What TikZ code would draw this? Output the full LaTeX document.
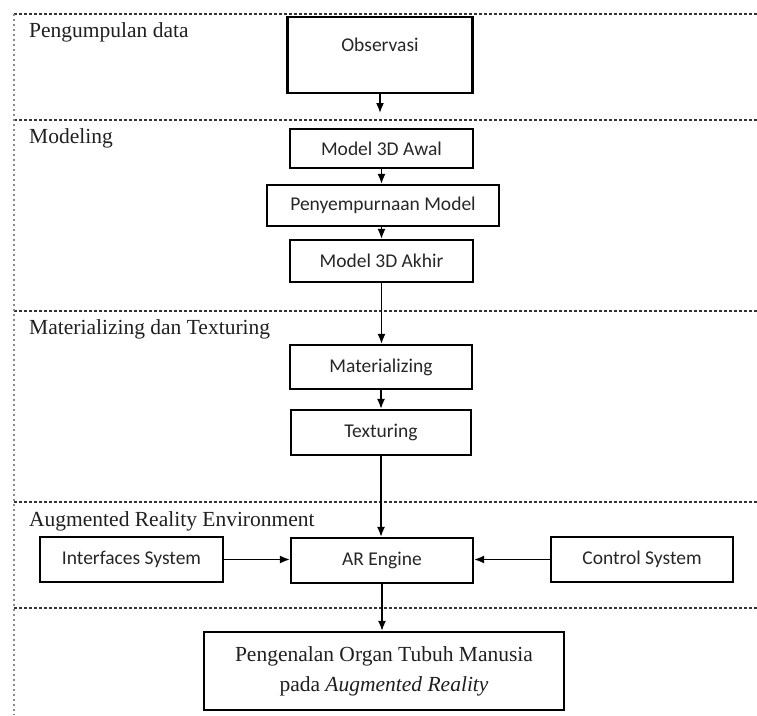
\documentclass[tikz,border=0pt]{standalone}
\usepackage{fontspec}
\setmainfont{Liberation Serif}
\newfontfamily\boxfont{Carlito}
\usetikzlibrary{arrows.meta}
\begin{document}
\begin{tikzpicture}[x=1pt,y=-1pt,
  sep/.style={draw=black!80, line width=1.2pt, dash pattern=on 3pt off 2pt},
  vsep/.style={draw=black!45, line width=1.8pt, dash pattern=on 2pt off 3pt},
  box/.style={draw=black, line width=2.2pt, inner sep=0pt, font=\boxfont\fontsize{19.5}{22}\selectfont, text=black!85},
  lab/.style={anchor=base west, inner sep=0pt, font=\fontsize{21.5}{24}\selectfont, text=black!88},
  arr/.style={draw=black, line width=1.6pt, -{Latex[length=10pt,width=8pt]}}]
\useasboundingbox (0,0) rectangle (757,715);
% zone separators
\draw[sep] (14,14) -- (757,14);
\draw[sep] (14,120) -- (757,120);
\draw[sep] (14,311) -- (757,311);
\draw[sep] (14,502) -- (757,502);
\draw[sep] (14,608) -- (757,608);
\draw[vsep] (14,14) -- (14,715);
% zone labels
\node[lab] (l1) at (29,37) {Pengumpulan data};
\node[lab] (l2) at (29,143) {Modeling};
\node[lab] (l3) at (29,334) {Materializing dan Texturing};
\node[lab] (l4) at (29,526) {Augmented Reality Environment};
% boxes
\node[box, minimum width=185pt, minimum height=76pt, text depth=20pt] (obs) at (380,55) {Observasi};
\node[box, minimum width=183pt, minimum height=39pt] (m1) at (381.5,148.5) {Model 3D Awal};
\node[box, minimum width=232pt, minimum height=41pt] (m2) at (383,205.5) {Penyempurnaan Model};
\node[box, minimum width=183pt, minimum height=42pt] (m3) at (381.5,261) {Model 3D Akhir};
\node[box, minimum width=182pt, minimum height=44pt] (mat) at (381,367) {Materializing};
\node[box, minimum width=180pt, minimum height=45pt] (tex) at (381,432.5) {Texturing};
\node[box, minimum width=182pt, minimum height=45pt] (ar) at (382,560.5) {AR Engine};
\node[box, minimum width=183pt, minimum height=45pt] (ifs) at (131.5,559.5) {Interfaces System};
\node[box, minimum width=182pt, minimum height=45pt] (cs) at (642,559.5) {Control System};
\node[box, minimum width=360pt, minimum height=78pt, align=center, font=\fontsize{21.5}{30}\selectfont, text=black!88] (out) at (384,671) {Pengenalan Organ Tubuh Manusia\\pada \textit{Augmented Reality}};
% connectors
\coordinate (obsEnd) at (obs.south |- 0,113);
\draw[arr] (obs.south) -- (obsEnd);
\draw[arr] (m1) -- (m1 |- m2.north);
\draw[arr] (m2.south -| m1) -- (m1 |- m3.north);
\draw[arr] (m3) -- (m3 |- mat.north);
\draw[arr] (mat) -- (mat |- tex.north);
\draw[arr] (tex) -- (tex |- ar.north);
\draw[arr] (ifs) -- (ifs -| ar.west);
\draw[arr] (cs) -- (cs -| ar.east);
\draw[arr] (ar) -- (ar |- out.north);
\end{tikzpicture}
\end{document}
